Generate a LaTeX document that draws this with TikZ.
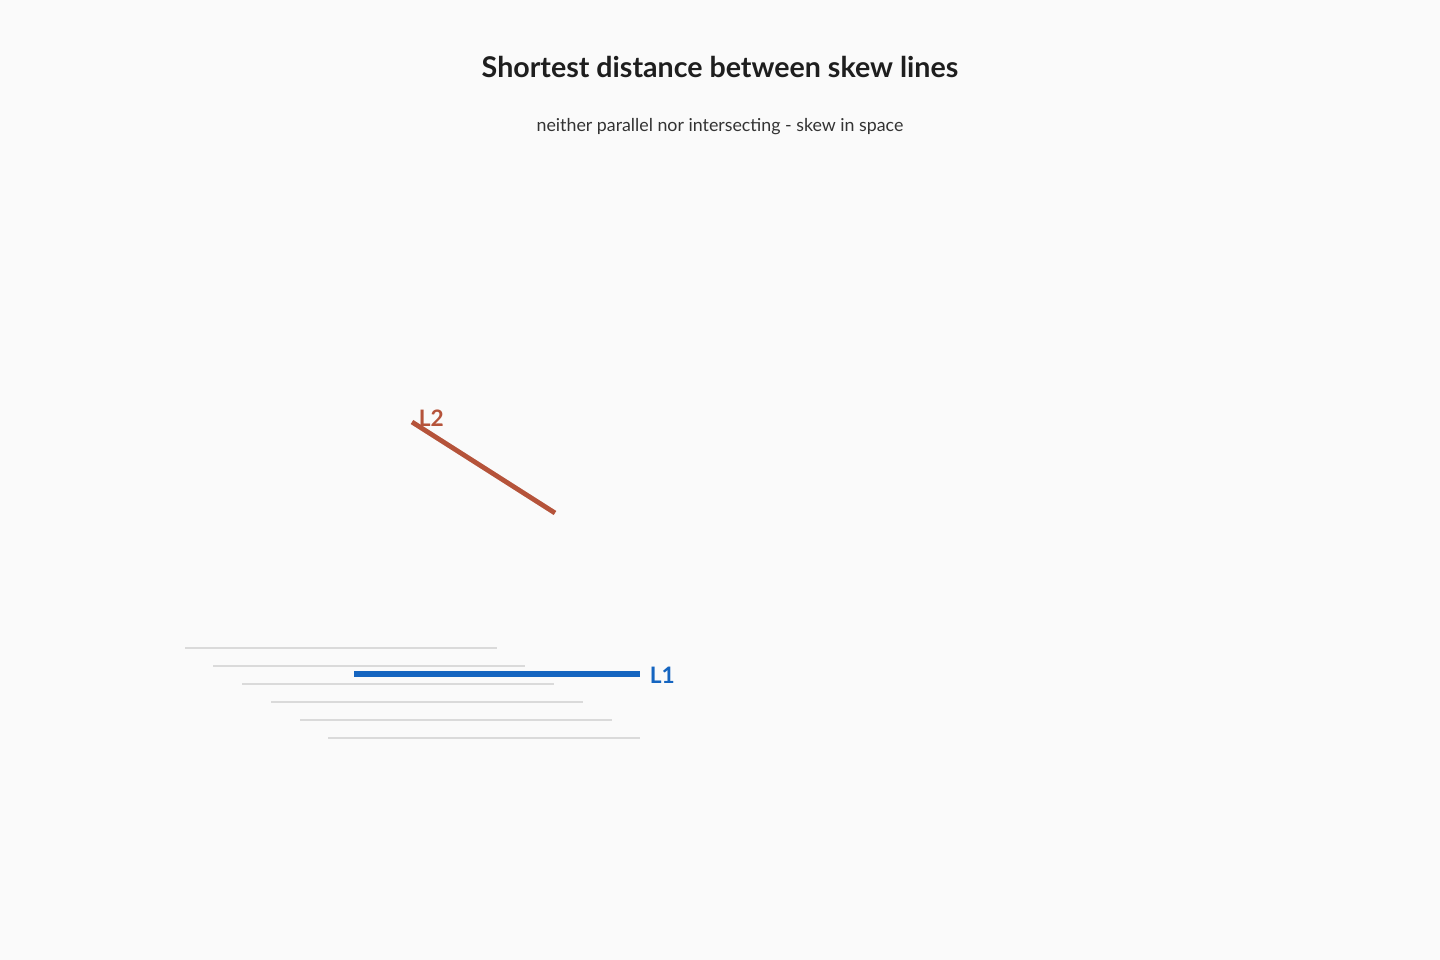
\documentclass[tikz,border=0pt]{standalone}
\usepackage{fontspec}
\setmainfont{Lato}
\definecolor{bg}{HTML}{FAFAFA}
\definecolor{gridc}{HTML}{DADADA}
\definecolor{blueL}{HTML}{1565C0}
\definecolor{redL}{HTML}{B5533A}
\definecolor{titlec}{HTML}{1E1E1E}
\definecolor{subc}{HTML}{333333}
\begin{document}
\begin{tikzpicture}[x=0.75pt,y=-0.75pt,
  gridline/.style={draw=gridc,line width=0.8pt},
  lbl/.style={font=\fontsize{17}{20}\selectfont\bfseries,inner sep=0pt}]
\fill[bg] (0,0) rectangle (1440,960);
\useasboundingbox (0,0) rectangle (1440,960);
\node[font=\fontsize{21.45}{26}\selectfont\bfseries,text=titlec] (title) at (720,67) {Shortest distance between skew lines};
\node[font=\fontsize{13.35}{16}\selectfont,text=subc] (sub) at (720,126.5) {neither parallel nor intersecting - skew in space};
\foreach \i/\xa/\xb/\yy in {1/185/497/648,2/213/525/666,3/242/554/684,4/271/583/702,5/300/612/720,6/328/640/738}{
  \coordinate (g\i a) at (\xa,\yy);
  \coordinate (g\i b) at (\xb,\yy);
  \draw[gridline] (g\i a) -- (g\i b);
}
\coordinate (l1a) at (354,674);
\coordinate (l1b) at (640,674);
\draw[blueL,line width=4.5pt] (l1a) -- (l1b);
\node[lbl,text=blueL,anchor=west] (L1) at (649.5,675) {L1};
\coordinate (l2a) at (412,422);
\coordinate (l2b) at (555,513);
\draw[redL,line width=3.6pt] (l2a) -- (l2b);
\node[lbl,text=redL,anchor=west] (L2) at (418.5,418) {L2};
\end{tikzpicture}
\end{document}
